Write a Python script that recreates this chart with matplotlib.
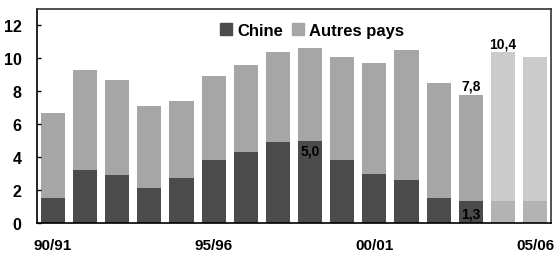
import matplotlib
matplotlib.use("Agg")
import matplotlib.pyplot as plt
import numpy as np
from matplotlib.patches import Patch

plt.rcParams["font.family"] = ["Liberation Sans", "DejaVu Sans"]
plt.rcParams["font.weight"] = "bold"

# campagnes 90/91 -> 05/06
seasons = ["90/91", "91/92", "92/93", "93/94", "94/95", "95/96", "96/97", "97/98",
           "98/99", "99/00", "00/01", "01/02", "02/03", "03/04", "04/05", "05/06"]
chine = [1.5, 3.2, 2.9, 2.1, 2.7, 3.8, 4.3, 4.9, 5.0, 3.8, 3.0, 2.6, 1.5, 1.3, 1.3, 1.3]
total = [6.7, 9.3, 8.7, 7.1, 7.4, 8.9, 9.6, 10.4, 10.6, 10.1, 9.7, 10.5, 8.5, 7.8, 10.4, 10.1]
forecast = [False] * 14 + [True, True]
shown_ticks = ["90/91", "95/96", "00/01", "05/06"]

autres = [t - c for t, c in zip(total, chine)]
x = np.arange(len(seasons))

c_dark, c_grey = "#4b4b4b", "#a6a6a6"
c_dark_f, c_grey_f = "#b3b3b3", "#cbcbcb"

fig = plt.figure(figsize=(5.59, 2.55), dpi=100)
ax = fig.add_axes([0.066, 0.122, 0.92, 0.839])

low_cols = [c_dark_f if f else c_dark for f in forecast]
up_cols = [c_grey_f if f else c_grey for f in forecast]
ax.bar(x, chine, width=0.75, color=low_cols)
ax.bar(x, autres, bottom=chine, width=0.75, color=up_cols)

# étiquettes de valeurs
fs = 10
ax.text(x[14], total[14] + 0.1, "10,4", ha="center", va="bottom", fontsize=fs, fontweight="bold")
ax.text(x[13], total[13] + 0.15, "7,8", ha="center", va="bottom", fontsize=fs, fontweight="bold")
ax.text(x[8], chine[8] - 0.2, "5,0", ha="center", va="top", fontsize=fs, fontweight="bold")
ax.text(x[13], 0.15, "1,3", ha="center", va="bottom", fontsize=fs, fontweight="bold")

ax.set_xlim(-0.5, len(seasons) - 0.5)
ax.set_ylim(0, 13)
ax.set_yticks(range(0, 13, 2))
ax.set_xticks([seasons.index(s) for s in shown_ticks])
ax.set_xticklabels(shown_ticks)
ax.tick_params(axis="x", length=0, labelsize=11, pad=11)
ax.tick_params(axis="y", direction="in", length=3, width=1, labelsize=11.5, pad=11)

for s in ["left", "bottom"]:
    ax.spines[s].set_color("black")
    ax.spines[s].set_linewidth(1.2)
for s in ["top", "right"]:
    ax.spines[s].set_color("#333333")
    ax.spines[s].set_linewidth(1.2)

handles = [Patch(color=c_dark, label="Chine"), Patch(color=c_grey, label="Autres pays")]
ax.legend(handles=handles, loc="center", bbox_to_anchor=(0.535, 0.9), ncol=2,
          frameon=False, handlelength=0.75, handleheight=0.75,
          handletextpad=0.3, columnspacing=0.5, borderpad=0,
          prop={"weight": "bold", "size": 12})

fig.savefig("out.png", dpi=100)
